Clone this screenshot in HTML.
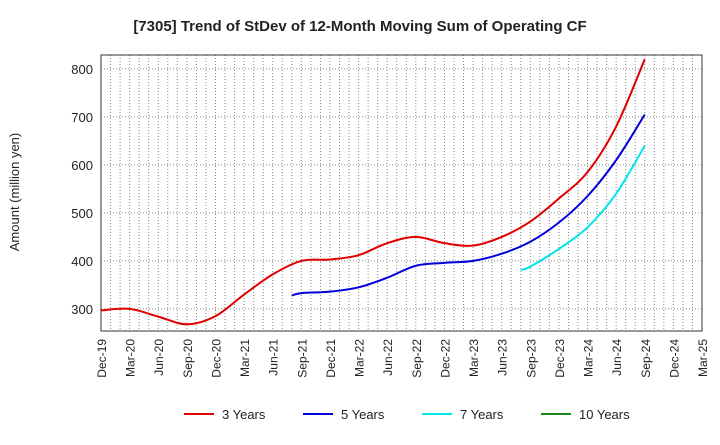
<!DOCTYPE html>
<html><head><meta charset="utf-8"><style>
body{margin:0;background:#fff;font-family:"Liberation Sans",sans-serif}
svg text{font-family:"Liberation Sans",sans-serif;fill:#222}
</style></head><body>
<svg id="chart" width="720" height="440">
<text x="360" y="31" text-anchor="middle" font-size="15" font-weight="bold">[7305]  Trend of StDev of 12-Month Moving Sum of Operating CF</text>
<text transform="translate(19,192) rotate(-90)" text-anchor="middle" font-size="13">Amount (million yen)</text>
<g id="grid"></g><g id="axes"></g><g id="series"></g><g id="legend"></g>
</svg>
<script>
const xLabels=["Dec-19","Mar-20","Jun-20","Sep-20","Dec-20","Mar-21","Jun-21","Sep-21","Dec-21","Mar-22","Jun-22","Sep-22","Dec-22","Mar-23","Jun-23","Sep-23","Dec-23","Mar-24","Jun-24","Sep-24","Dec-24","Mar-25"];
const yTicks=[300,400,500,600,700,800];
// month index from Dec-19
const m3=[0,3,6,9,12,15,18,21,24,27,30,33,36,39,42,45,48,51,54,57];
const v3=[297,300,284,268,285,330,372,400,403,412,437,450,437,432,450,482,530,585,680,820];
const m5=[20,21,24,27,30,33,36,39,42,45,48,51,54,57];
const v5=[328,333,336,345,365,390,396,400,415,440,480,535,610,705];
const m7=[44,45,48,51,54,57];
const v7=[381,388,425,470,540,640];
const m10=[];const v10=[];
const X0=101,X1=702,Y0=55,Y1=331,YMIN=254,YMAX=829;
const xs=m=>X0+m*(X1-X0)/63;
const ys=v=>Y1-(v-YMIN)*(Y1-Y0)/(YMAX-YMIN);
const NS="http://www.w3.org/2000/svg";
function mk(t,a,p){const e=document.createElementNS(NS,t);for(const k in a)e.setAttribute(k,a[k]);p.appendChild(e);return e;}
const grid=document.getElementById('grid'),axes=document.getElementById('axes');
for(let m=0;m<=63;m++){const l=mk('line',{x1:xs(m),x2:xs(m),y1:Y0,y2:Y1,stroke:'#888','stroke-dasharray':'1,2','stroke-width':1},grid);

}
yTicks.forEach(v=>{const l=mk('line',{x1:X0,x2:X1,y1:ys(v),y2:ys(v),stroke:'#888','stroke-dasharray':'1,2','stroke-width':1},grid);

});
const fr=mk('rect',{x:X0,y:Y0,width:X1-X0,height:Y1-Y0,fill:'none',stroke:'#333'},axes);


yTicks.forEach(v=>{const t=mk('text',{x:X0-8,y:ys(v)+5,'text-anchor':'end','font-size':13},axes);t.textContent=v;

});
xLabels.forEach((s,i)=>{const x=xs(i*3);const t=mk('text',{transform:`translate(${x+5},${Y1+8}) rotate(-90)`,'text-anchor':'end','font-size':12},axes);t.textContent=s;

});
function path(ms,vs){const p=ms.map((m,i)=>[xs(m),ys(vs[i])]);if(!p.length)return'';let d=`M${p[0][0]},${p[0][1]}`;
for(let i=0;i<p.length-1;i++){const a=p[i-1]||p[i],b=p[i],c=p[i+1],e=p[i+2]||c;
d+=` C${b[0]+(c[0]-a[0])/6},${b[1]+(c[1]-a[1])/6} ${c[0]-(e[0]-b[0])/6},${c[1]-(e[1]-b[1])/6} ${c[0]},${c[1]}`;}return d;}
const ser=document.getElementById('series');
[[m3,v3,'#e00000','line-3-years'],[m5,v5,'#0000dd','line-5-years'],[m7,v7,'#00e5ee','line-7-years'],[m10,v10,'#1a8a1a','line-10-years']].forEach(s=>{
if(!s[0].length)return;const p=mk('path',{d:path(s[0],s[1]),fill:'none',stroke:s[2],'stroke-width':2},ser);

});
const lg=document.getElementById('legend');
[['3 Years','#e00000',184],['5 Years','#0000dd',303],['7 Years','#00e5ee',422],['10 Years','#1a8a1a',541]].forEach(l=>{
const g=mk('g',{},lg);


mk('line',{x1:l[2],x2:l[2]+30,y1:414,y2:414,stroke:l[1],'stroke-width':2},g);
const t=mk('text',{x:l[2]+38,y:419,'font-size':13},g);t.textContent=l[0];});
</script>
</body></html>
